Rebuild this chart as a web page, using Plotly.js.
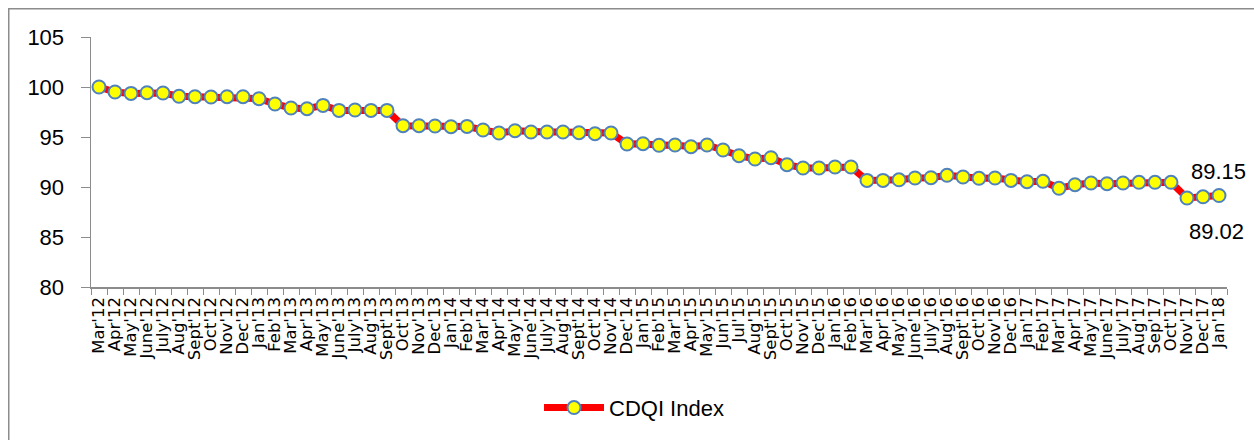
<!DOCTYPE html>
<html>
<head>
<meta charset="utf-8">
<script src="https://cdn.plot.ly/plotly-3.0.1.min.js"></script>
<style>
  html, body { margin: 0; padding: 0; background: #fff; }
  #chart { width: 1254px; height: 440px; }
</style>
</head>
<body>
<div id="chart"></div>
<script>
const months = ["Mar'12","Apr'12","May'12","June'12","July'12","Aug'12","Sept'12","Oct'12","Nov'12","Dec'12",
  "Jan'13","Feb'13","Mar'13","Apr'13","May'13","June'13","July'13","Aug'13","Sept'13","Oct'13","Nov'13","Dec'13",
  "Jan'14","Feb'14","Mar'14","Apr'14","May'14","June'14","July'14","Aug'14","Sept'14","Oct'14","Nov'14","Dec'14",
  "Jan'15","Feb'15","Mar'15","Apr'15","May'15","Jun'15","Jul'15","Aug'15","Sept'15","Oct'15","Nov'15","Dec'15",
  "Jan'16","Feb'16","Mar'16","Apr'16","May'16","June'16","July'16","Aug'16","Sept'16","Oct'16","Nov'16","Dec'16",
  "Jan'17","Feb'17","Mar'17","Apr'17","May'17","June'17","July'17","Aug'17","Sep'17","Oct'17","Nov'17","Dec'17",
  "Jan'18"];
const cdqiIndex = [100.0, 99.5, 99.36, 99.43, 99.4, 99.07, 99.03, 99.0, 99.03, 99.03,
  98.83, 98.3, 97.9, 97.83, 98.16, 97.66, 97.7, 97.66, 97.66, 96.13, 96.13, 96.1,
  96.03, 96.06, 95.7, 95.4, 95.63, 95.5, 95.5, 95.5, 95.43, 95.33, 95.4, 94.3,
  94.33, 94.17, 94.2, 94.03, 94.2, 93.7, 93.13, 92.8, 92.93, 92.23, 91.9, 91.9,
  92.0, 92.0, 90.66, 90.66, 90.72, 90.9, 90.93, 91.17, 91.0, 90.87, 90.9, 90.66,
  90.53, 90.57, 89.87, 90.23, 90.4, 90.33, 90.4, 90.47, 90.47, 90.47, 88.9, 89.02,
  89.15];
const seriesName = "CDQI Index";
const yTicks = [80, 85, 90, 95, 100, 105];

const n = months.length;
const trace = {
  type: 'scatter',
  mode: 'lines+markers',
  x: months,
  y: cdqiIndex,
  name: seriesName,
  line: { color: '#FF0000', width: 7 },
  marker: { size: 13, color: '#FFFF00', line: { color: '#4F81BD', width: 2 } },
  showlegend: true
};

const font = "'Liberation Sans', Arial, sans-serif";
const layout = {
  width: 1254, height: 440,
  margin: { l: 91.3, r: 26.7, t: 37.3, b: 152.7 },
  paper_bgcolor: '#fff', plot_bgcolor: '#fff',
  showlegend: true,
  font: { family: font, color: '#000', size: 22 },
  xaxis: {
    type: 'category',
    range: [-0.5, n - 0.5],
    tickmode: 'linear', tick0: 0, dtick: 1,
    tickson: 'boundaries',
    ticks: 'outside', ticklen: 6, tickcolor: '#8c8c8c', tickwidth: 1,
    showline: true, linecolor: '#8c8c8c', linewidth: 1.5,
    showgrid: false, zeroline: false,
    tickangle: -90,
    tickfont: { family: "'DejaVu Sans', sans-serif", size: 16.5, color: '#000' },
    ticklabelstandoff: 2,
    fixedrange: true
  },
  yaxis: {
    range: [80, 105],
    tickvals: yTicks,
    ticktext: yTicks.map(String),
    ticks: 'outside', ticklen: 9, tickcolor: '#8c8c8c', tickwidth: 1,
    showline: true, linecolor: '#8c8c8c', linewidth: 1.5,
    showgrid: false, zeroline: false,
    tickfont: { family: font, size: 22, color: '#000' },
    ticklabelstandoff: 12,
    fixedrange: true
  },
  legend: {
    orientation: 'h',
    x: 0.478, xanchor: 'center',
    y: -0.483, yanchor: 'middle',
    font: { family: font, size: 22, color: '#000' },
    itemwidth: 60,
    bgcolor: 'rgba(0,0,0,0)'
  },
  annotations: [
    { x: months[n - 1], y: cdqiIndex[n - 1], text: cdqiIndex[n - 1].toFixed(2),
      showarrow: false, yshift: 24, xshift: -1, font: { family: font, size: 22, color: '#000' } },
    { x: months[n - 2], y: cdqiIndex[n - 2], text: cdqiIndex[n - 2].toFixed(2),
      showarrow: false, yshift: -35, xshift: 13, font: { family: font, size: 22, color: '#000' } }
  ],
  shapes: [
    { type: 'path', xref: 'paper', yref: 'paper',
      path: 'M -0.0724,-0.62 L -0.0724,1.113 L 1.03,1.113',
      line: { color: '#8c8c8c', width: 1.5 } }
  ]
};

Plotly.newPlot('chart', [trace], layout, { displayModeBar: false, staticPlot: true });
</script>
</body>
</html>
